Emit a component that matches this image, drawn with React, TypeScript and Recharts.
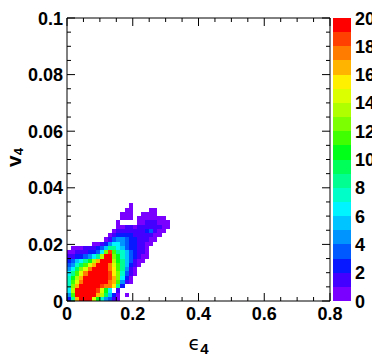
import { ComposedChart, Scatter, XAxis, YAxis, ReferenceArea, Label } from "recharts";

// eps4 / v4 bin lower edges (last entry closes the final bin)
const epsEdges = [
  0, 0.0125, 0.025, 0.0375, 0.05, 0.0625, 0.075, 0.0875, 0.1, 0.1125, 0.125, 0.1375, 0.15,
  0.1625, 0.175, 0.1875, 0.2, 0.2125, 0.225, 0.2375, 0.25, 0.2625, 0.275, 0.2875, 0.3, 0.3125,
];
const v4Edges = [
  0, 0.0015, 0.003, 0.0045, 0.006, 0.0075, 0.009, 0.0105, 0.012, 0.0135, 0.015, 0.0165, 0.018,
  0.0195, 0.021, 0.0225, 0.024, 0.0255, 0.027, 0.0285, 0.03, 0.0315, 0.033, 0.0345,
];

// bin contents, one row per v4 bin starting at v4 = 0, columns follow epsEdges
const counts: number[][] = [
  [2.5, 8, 16, 20, 21, 19.5, 14, 10, 7, 4.5, 3, 1.5, 0.5],
  [4, 11, 19, 21, 23, 22, 19.5, 16, 13, 9, 5, 2.5, 0.8, 0, 0.5],
  [6, 13, 19.5, 22, 24, 24, 22, 18.5, 14, 10, 6, 0, 1.5],
  [7, 12, 16.5, 20, 23, 25, 24, 20, 18.5, 17, 17, 15, 8, 2],
  [7.5, 11, 14, 17, 20, 23, 25, 23, 19.5, 19, 17.5, 16.5, 11, 4, 1, 0.6],
  [7, 10, 13, 16, 19.5, 22, 24, 24, 22, 19.5, 18, 16, 12, 6, 2, 0.8],
  [6, 8.5, 11, 14, 17, 20, 23, 24, 23, 20, 18, 15.5, 12, 7, 3, 1, 0.5],
  [4.5, 6.5, 9.5, 12, 14.5, 17, 19.5, 22, 23, 20, 17.5, 15, 11.5, 8, 4, 1.5, 0.6],
  [3, 4.5, 7, 9, 11, 14, 16.5, 19.5, 22, 20, 17, 14, 11, 8, 5, 2, 1, 0.5],
  [2.5, 3, 5, 6.5, 8, 10.5, 13, 16, 19.5, 21, 19.5, 13, 10.5, 8, 5.5, 3, 1.5, 0.8, 0.5],
  [1.2, 1.6, 2, 2.5, 3, 4, 6, 8, 13, 19.5, 19.5, 12, 10, 7.5, 5.5, 3.5, 2, 1.2, 0.8, 0.5],
  [0.6, 0.8, 1, 1.2, 1.5, 2, 2.5, 3.5, 6, 12, 18, 11, 8.5, 7, 5, 3.5, 2.5, 1.5, 1, 0.6],
  [0, 0.5, 0.6, 0.8, 1, 1.2, 1.5, 2, 3, 5, 8, 8, 6.5, 5, 3.5, 2.5, 2, 1.5, 1, 0.6],
  [0, 0, 0, 0, 0, 0, 0.5, 0.8, 1.5, 2.5, 4.5, 6.5, 6, 4.5, 3, 2.5, 2, 1.5, 1.2, 0.8, 0.5],
  [0, 0, 0, 0, 0, 0, 0, 0, 0, 0.5, 1.2, 3, 4.5, 4, 3, 2.5, 2, 1.5, 1.2, 1, 0.7, 0.5],
  [0, 0, 0, 0, 0, 0, 0, 0, 0, 0, 0.5, 1, 2, 2.5, 2.5, 2, 1.8, 1.5, 1.5, 1.2, 1, 0.8, 0.5],
  [0, 0, 0, 0, 0, 0, 0, 0, 0, 0, 0, 0.5, 1, 1.5, 1.5, 1.5, 1.2, 1.2, 1.5, 2, 3, 1.5, 0.8, 0.5],
  [0, 0, 0, 0, 0, 0, 0, 0, 0, 0, 0, 0, 0.5, 0.8, 1, 1, 0.8, 1, 1, 1.2, 1.5, 1.2, 1, 0.6, 0.5],
  [0, 0, 0, 0, 0, 0, 0, 0, 0, 0, 0, 0, 0.5, 0, 0, 0, 0, 0.5, 0.8, 1, 1, 1, 0.8, 0.6, 0.5],
  [0, 0, 0, 0, 0, 0, 0, 0, 0, 0, 0, 0, 0, 0.5, 0.6, 0.5, 0, 0.5, 0.6, 0.8, 0.8, 0.6, 0.5, 0.5],
  [0, 0, 0, 0, 0, 0, 0, 0, 0, 0, 0, 0, 0, 0.5, 0.5, 0.5, 0, 0, 0.5, 0.6, 0.7, 0.6],
  [0, 0, 0, 0, 0, 0, 0, 0, 0, 0, 0, 0, 0, 0, 0.5, 0.5, 0, 0, 0, 0, 0.5, 0.5],
  [0, 0, 0, 0, 0, 0, 0, 0, 0, 0, 0, 0, 0, 0, 0, 0.5],
];

const epsTicks = [0, 0.2, 0.4, 0.6, 0.8];
const epsMinorTicks = [0.05, 0.1, 0.15, 0.25, 0.3, 0.35, 0.45, 0.5, 0.55, 0.65, 0.7, 0.75];
const v4Ticks = [0, 0.02, 0.04, 0.06, 0.08, 0.1];
const v4MinorTicks = [
  0.005, 0.01, 0.015, 0.025, 0.03, 0.035, 0.045, 0.05, 0.055, 0.065, 0.07, 0.075, 0.085, 0.09,
  0.095,
];
const zTicks = [0, 2, 4, 6, 8, 10, 12, 14, 16, 18, 20];

// one colour per unit of bin content, 0 -> 20
const palette = [
  "#7a00ff", "#4400ff", "#0818ff", "#0058ff", "#0094ff", "#00c4ff", "#00f4ff", "#00ffc8",
  "#00ff90", "#00ff58", "#00ff18", "#40ff00", "#7cff00", "#b0ff00", "#dcff00", "#fff000",
  "#ffb400", "#ff7c00", "#ff4000", "#ff0000",
];

const FONT = "'Liberation Sans', Arial, Helvetica, sans-serif";

type Cell = { x1: number; x2: number; y1: number; y2: number; xc: number; yc: number; z: number };

const cells: Cell[] = [];
counts.forEach((row, j) =>
  row.forEach((z, i) => {
    if (z > 0) {
      const x1 = epsEdges[i];
      const x2 = epsEdges[i + 1];
      const y1 = v4Edges[j];
      const y2 = v4Edges[j + 1];
      cells.push({ x1, x2, y1, y2, xc: (x1 + x2) / 2, yc: (y1 + y2) / 2, z });
    }
  })
);

// palette bands for the z axis
const bands = palette.map((fill, k) => ({ lo: k, hi: k + 1, mid: k + 0.5, fill }));

const colorFor = (z: number) => palette[Math.min(palette.length - 1, Math.floor(z))];

const binShape = (p: any) => (
  <rect x={p.x} y={p.y} width={p.width} height={p.height} fill={p.fill} shapeRendering="crispEdges" />
);

const noMarker = () => <g />;

const fmt = (v: number) => String(v);

const BottomTick = ({ x, y, payload }: any) => {
  const major = epsTicks.includes(payload.value);
  return (
    <g>
      <line x1={x} x2={x} y1={y} y2={y - (major ? 8 : 4)} stroke="#000" />
      {major && (
        <text x={x} y={y + 19} textAnchor="middle" fontFamily={FONT} fontWeight={700} fontSize={18} fill="#000">
          {fmt(payload.value)}
        </text>
      )}
    </g>
  );
};

const TopTick = ({ x, y, payload }: any) => {
  const major = epsTicks.includes(payload.value);
  return <line x1={x} x2={x} y1={y} y2={y + (major ? 8 : 4)} stroke="#000" />;
};

const LeftTick = ({ x, y, payload }: any) => {
  const major = v4Ticks.includes(payload.value);
  return (
    <g>
      <line x1={x} x2={x + (major ? 8 : 4)} y1={y} y2={y} stroke="#000" />
      {major && (
        <text x={x - 4} y={y + 6.5} textAnchor="end" fontFamily={FONT} fontWeight={700} fontSize={18} fill="#000">
          {fmt(payload.value)}
        </text>
      )}
    </g>
  );
};

const RightTick = ({ x, y, payload }: any) => {
  const major = v4Ticks.includes(payload.value);
  return <line x1={x} x2={x - (major ? 8 : 4)} y1={y} y2={y} stroke="#000" />;
};

const ZTick = ({ x, y, payload }: any) => (
  <text x={x + 4} y={y + 6.5} textAnchor="start" fontFamily={FONT} fontWeight={700} fontSize={18} fill="#000">
    {fmt(payload.value)}
  </text>
);

const EpsTitle = ({ viewBox }: any) => {
  const cx = viewBox.x + viewBox.width / 2;
  return (
    <text x={cx} y={viewBox.y + 49} textAnchor="middle" fill="#000">
      <tspan fontFamily="'DejaVu Sans', sans-serif" fontSize={19}>ϵ</tspan>
      <tspan fontFamily={FONT} fontWeight={700} fontSize={15} dy={4}>4</tspan>
    </text>
  );
};

const V4Title = ({ viewBox }: any) => {
  const cx = 21;
  const cy = viewBox.y + viewBox.height / 2 - 2;
  return (
    <text x={cx} y={cy} transform={`rotate(-90 ${cx} ${cy})`} textAnchor="middle" fill="#000" fontFamily={FONT} fontWeight={700}>
      <tspan fontSize={21}>v</tspan>
      <tspan fontSize={13} dy={2}>4</tspan>
    </text>
  );
};

export default function App() {
  return (
    <div style={{ position: "absolute", left: 0, top: 0, width: 372, height: 356, background: "#fff" }}>
      <ComposedChart width={372} height={356} data={cells} margin={{ top: 17, right: 41, bottom: 0, left: 0 }}>
        <XAxis
          xAxisId="eps"
          dataKey="xc"
          type="number"
          domain={[0, 0.8]}
          allowDataOverflow
          ticks={[...epsTicks, ...epsMinorTicks]}
          interval={0}
          height={55}
          tickSize={0}
          tickMargin={0}
          tickLine={false}
          axisLine={{ stroke: "#000" }}
          tick={BottomTick}
        >
          <Label content={EpsTitle} />
        </XAxis>
        <XAxis
          xAxisId="top"
          dataKey="xc"
          orientation="top"
          type="number"
          domain={[0, 0.8]}
          allowDataOverflow
          ticks={[...epsTicks, ...epsMinorTicks]}
          interval={0}
          height={1}
          tickSize={0}
          tickMargin={0}
          tickLine={false}
          axisLine={{ stroke: "#000" }}
          tick={TopTick}
        />
        <YAxis
          yAxisId="v4"
          dataKey="yc"
          type="number"
          domain={[0, 0.1]}
          allowDataOverflow
          ticks={[...v4Ticks, ...v4MinorTicks]}
          interval={0}
          width={67}
          tickSize={0}
          tickMargin={0}
          tickLine={false}
          axisLine={{ stroke: "#000" }}
          tick={LeftTick}
        >
          <Label content={V4Title} />
        </YAxis>
        <YAxis
          yAxisId="right"
          dataKey="yc"
          orientation="right"
          type="number"
          domain={[0, 0.1]}
          allowDataOverflow
          ticks={[...v4Ticks, ...v4MinorTicks]}
          interval={0}
          width={1}
          tickSize={0}
          tickMargin={0}
          tickLine={false}
          axisLine={{ stroke: "#000" }}
          tick={RightTick}
        />
        <Scatter xAxisId="eps" yAxisId="v4" dataKey="yc" shape={noMarker} isAnimationActive={false} />
        <Scatter xAxisId="top" yAxisId="right" dataKey="yc" shape={noMarker} isAnimationActive={false} />
        {cells.map((c, k) => (
          <ReferenceArea
            key={k}
            xAxisId="eps"
            yAxisId="v4"
            x1={c.x1}
            x2={c.x2}
            y1={c.y1}
            y2={c.y2}
            fill={colorFor(c.z)}
            fillOpacity={1}
            stroke="none"
            shape={binShape}
          />
        ))}
      </ComposedChart>

      {/* palette axis */}
      <div style={{ position: "absolute", left: 333, top: 0 }}>
        <ComposedChart width={39} height={356} data={bands} margin={{ top: 18, right: 0, bottom: 55, left: 0 }}>
          <XAxis xAxisId="bar" dataKey="mid" type="number" domain={[0, 20]} hide />
          <YAxis
            yAxisId="z"
            dataKey="mid"
            orientation="right"
            type="number"
            domain={[0, 20]}
            ticks={zTicks}
            interval={0}
            width={21}
            tickSize={0}
            tickMargin={0}
            tickLine={false}
            axisLine={false}
            tick={ZTick}
          />
          <Scatter xAxisId="bar" yAxisId="z" dataKey="mid" shape={noMarker} isAnimationActive={false} />
          {bands.map((b, k) => (
            <ReferenceArea
              key={k}
              xAxisId="bar"
              yAxisId="z"
              x1={0}
              x2={20}
              y1={b.lo}
              y2={b.hi}
              fill={b.fill}
              fillOpacity={1}
              stroke="none"
              shape={binShape}
            />
          ))}
        </ComposedChart>
      </div>
    </div>
  );
}
